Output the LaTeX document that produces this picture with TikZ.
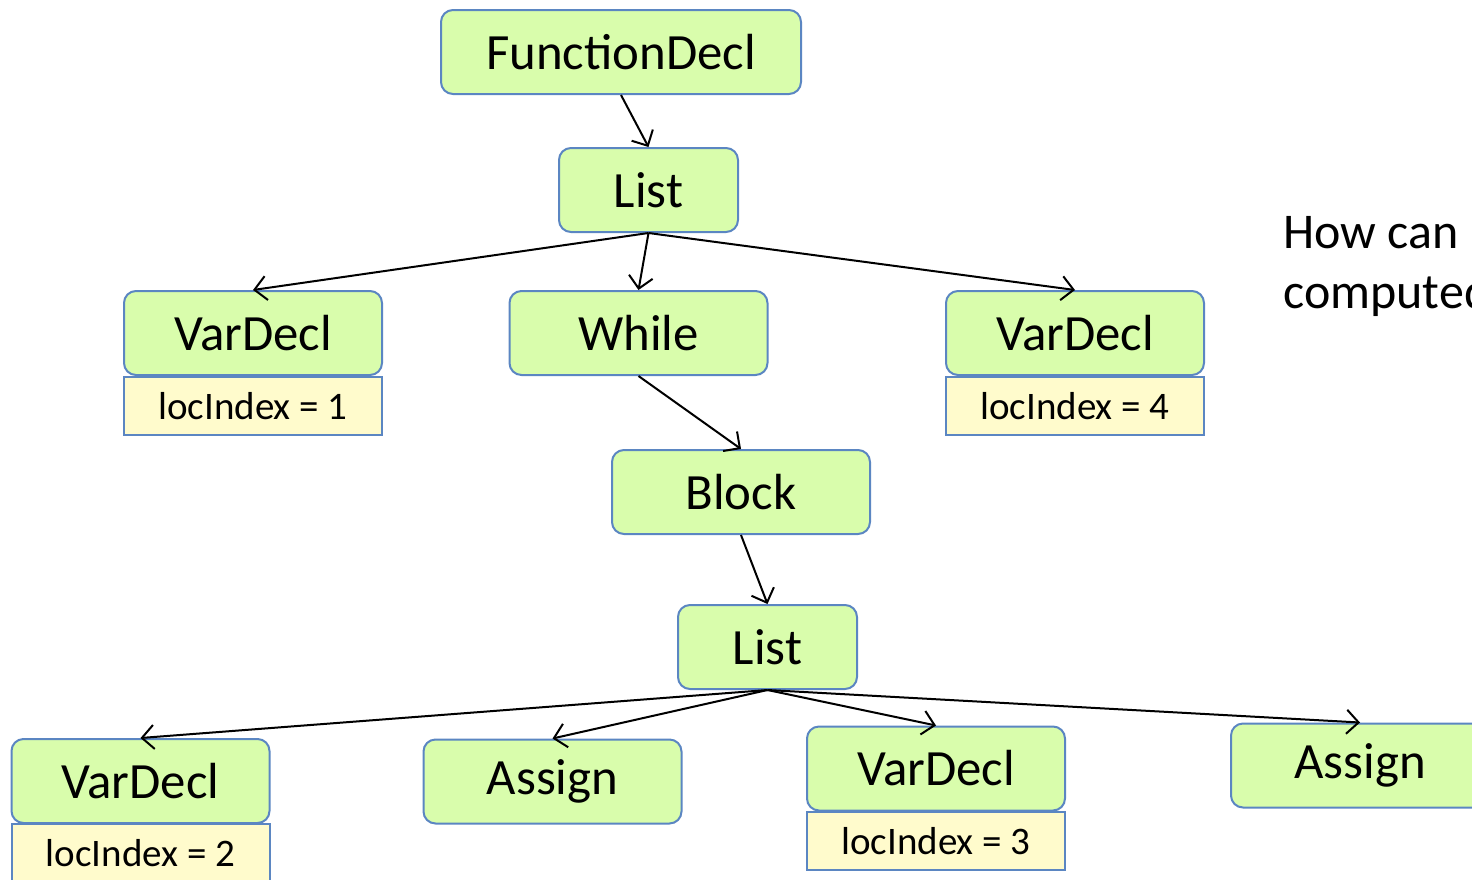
\documentclass[tikz,border=0pt]{standalone}
\usepackage{fontspec}
\setmainfont{Carlito}
\usetikzlibrary{arrows.meta}
\definecolor{gfill}{HTML}{D9FDAC}
\definecolor{yfill}{HTML}{FFFBCC}
\definecolor{bdr}{HTML}{5B86C2}
\tikzset{
  gbox/.style={draw=bdr, fill=gfill, line width=1pt, rounded corners=6pt, minimum width=129pt, minimum height=42pt, inner sep=0pt, font=\fontsize{25.4}{30}\selectfont},
  ybox/.style={draw=bdr, fill=yfill, line width=1pt, minimum width=129pt, minimum height=29pt, inner sep=0pt, font=\fontsize{19.5}{23}\selectfont},
  qtext/.style={inner sep=0pt, anchor=base west, font=\fontsize{25}{30}\selectfont},
  edge/.style={line width=1pt, -{Straight Barb[length=6pt, width=12pt, line width=1pt]}}
}
\begin{document}
\begin{tikzpicture}[x=0.5pt, y=-0.5pt]
\useasboundingbox (0,0) rectangle (1472,879);
\clip (0,0) rectangle (1472,879);
% top tree
\node[gbox, minimum width=180pt] (fd) at (621,52) {FunctionDecl};
\node[gbox, minimum width=89.5pt] (l1) at (648.5,190) {List};
\node[gbox] (vd1) at (253,333) {VarDecl};
\node[ybox] (li1) at (253,406) {locIndex = 1};
\node[gbox] (wh) at (638.5,333) {While};
\node[gbox] (vd4) at (1075,333) {VarDecl};
\node[ybox] (li4) at (1075,406) {locIndex = 4};
\node[gbox] (bl) at (741,492) {Block};
\node[gbox, minimum width=89.5pt] (l2) at (767.5,647) {List};
% bottom row
\node[gbox] (vd2) at (140.5,781) {VarDecl};
\node[ybox] (li2) at (140.5,853) {locIndex = 2};
\node[gbox] (as1) at (552.5,781.5) {Assign};
\node[gbox] (vd3) at (936,768.5) {VarDecl};
\node[ybox] (li3) at (936,841) {locIndex = 3};
\node[gbox] (as2) at (1360,765.5) {Assign};
% question text
\node[qtext] (q1) at (1283,248) {How can};
\node[qtext] (q2) at (1283,308) {computed};
% edges
\draw[edge] (fd.south) -- (l1.north);
\draw[edge] (l1.south) -- (vd1.north);
\draw[edge] (l1.south) -- (wh.north);
\draw[edge] (l1.south) -- (vd4.north);
\draw[edge] (wh.south) -- (bl.north);
\draw[edge] (bl.south) -- (l2.north);
\draw[edge] (l2.south) -- (vd2.north);
\draw[edge] (l2.south) -- (as1.north);
\draw[edge] (l2.south) -- (vd3.north);
\draw[edge] (l2.south) -- (as2.north);
\end{tikzpicture}
\end{document}
